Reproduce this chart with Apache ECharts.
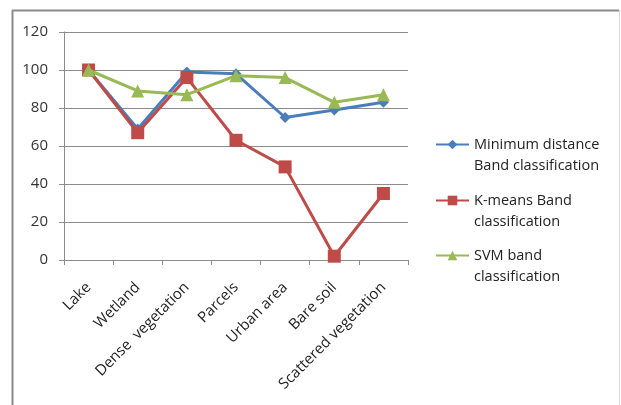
<!DOCTYPE html>
<html>
<head>
<meta charset="utf-8">
<script src="https://cdn.jsdelivr.net/npm/echarts@6/dist/echarts.min.js"></script>
<style>
  html, body { margin: 0; padding: 0; background: #fff; }
  #chart { width: 621px; height: 405px; }
</style>
</head>
<body>
<div id="chart"></div>
<script>
// ---------------- Data ----------------
let categories = ["Lake", "Wetland", "Dense  vegetation", "Parcels", "Urban area", "Bare soil", "Scattered vegetation"];
let min_distance_values = [100, 69, 99, 98, 75, 79, 83];
let kmeans_values = [100, 67, 96, 63, 49, 2, 35];
let svm_values = [100, 89, 87, 97, 96, 83, 87];
let series_names = ["Minimum distance\nBand classification", "K-means Band\nclassification", "SVM band\nclassification"];
let y_ticks = [0, 20, 40, 60, 80, 100, 120];

// ---------------- Style ----------------
let font_family = "'Open Sans', 'Liberation Sans', sans-serif";
let grid_color = "#8c8c8c";
let colors = ["#4a7ebb", "#be4b48", "#98b954"];

let chart_dom = document.getElementById("chart");
let chart = echarts.init(chart_dom);

// one legend per series; leading blank line keeps the icon level with the first text line
function make_legend(name, top) {
    return {
        data: [name],
        left: 430,
        top: top,
        orient: "vertical",
        itemWidth: 33,
        itemHeight: 12,
        itemGap: 0,
        selectedMode: false,
        formatter: function (n) { return "\n" + n; },
        textStyle: {
            fontFamily: font_family,
            fontSize: 14.5,
            color: "#222",
            lineHeight: 21
        }
    };
}

let option = {
    backgroundColor: "#fff",
    animation: false,
    color: colors,
    graphic: [
        {
            type: "line",
            shape: { x1: 12, y1: 10.5, x2: 619, y2: 10.5 },
            style: { stroke: "#8a8a8a", lineWidth: 2 },
            silent: true
        },
        {
            type: "line",
            shape: { x1: 12.5, y1: 10, x2: 12.5, y2: 405 },
            style: { stroke: "#8a8a8a", lineWidth: 2 },
            silent: true
        },
        {
            type: "line",
            shape: { x1: 619.5, y1: 10, x2: 619.5, y2: 405 },
            style: { stroke: "#dcdcdc", lineWidth: 1 },
            silent: true
        }
    ],
    grid: { left: 64, top: 32, right: 213, bottom: 145 },
    legend: [
        make_legend(series_names[0], 108),
        make_legend(series_names[1], 164),
        make_legend(series_names[2], 219)
    ],
    xAxis: {
        type: "category",
        data: categories,
        boundaryGap: true,
        axisLine: { show: true, lineStyle: { color: grid_color, width: 1 } },
        axisTick: { show: true, length: 5, lineStyle: { color: grid_color } },
        axisLabel: {
            rotate: 45,
            interval: 0,
            margin: 25,
            fontFamily: font_family,
            fontSize: 15,
            color: "#222"
        }
    },
    yAxis: {
        type: "value",
        min: 0,
        max: 120,
        interval: 20,
        axisLine: { show: true, lineStyle: { color: grid_color, width: 1 } },
        axisTick: { show: true, length: 5, lineStyle: { color: grid_color } },
        splitLine: { show: true, lineStyle: { color: grid_color, width: 1 } },
        axisLabel: {
            margin: 16,
            fontFamily: font_family,
            fontSize: 15,
            color: "#333",
            formatter: function (v) { return y_ticks.indexOf(v) >= 0 ? String(v) : ""; }
        }
    },
    series: [
        {
            name: series_names[0],
            type: "line",
            data: min_distance_values,
            symbol: "diamond",
            symbolSize: 11,
            lineStyle: { width: 3 },
            z: 2
        },
        {
            name: series_names[1],
            type: "line",
            data: kmeans_values,
            symbol: "rect",
            symbolSize: 13,
            lineStyle: { width: 3 },
            z: 3
        },
        {
            name: series_names[2],
            type: "line",
            data: svm_values,
            symbol: "triangle",
            symbolSize: 13,
            lineStyle: { width: 3 },
            z: 4
        }
    ]
};
chart.setOption(option);
</script>
</body>
</html>
